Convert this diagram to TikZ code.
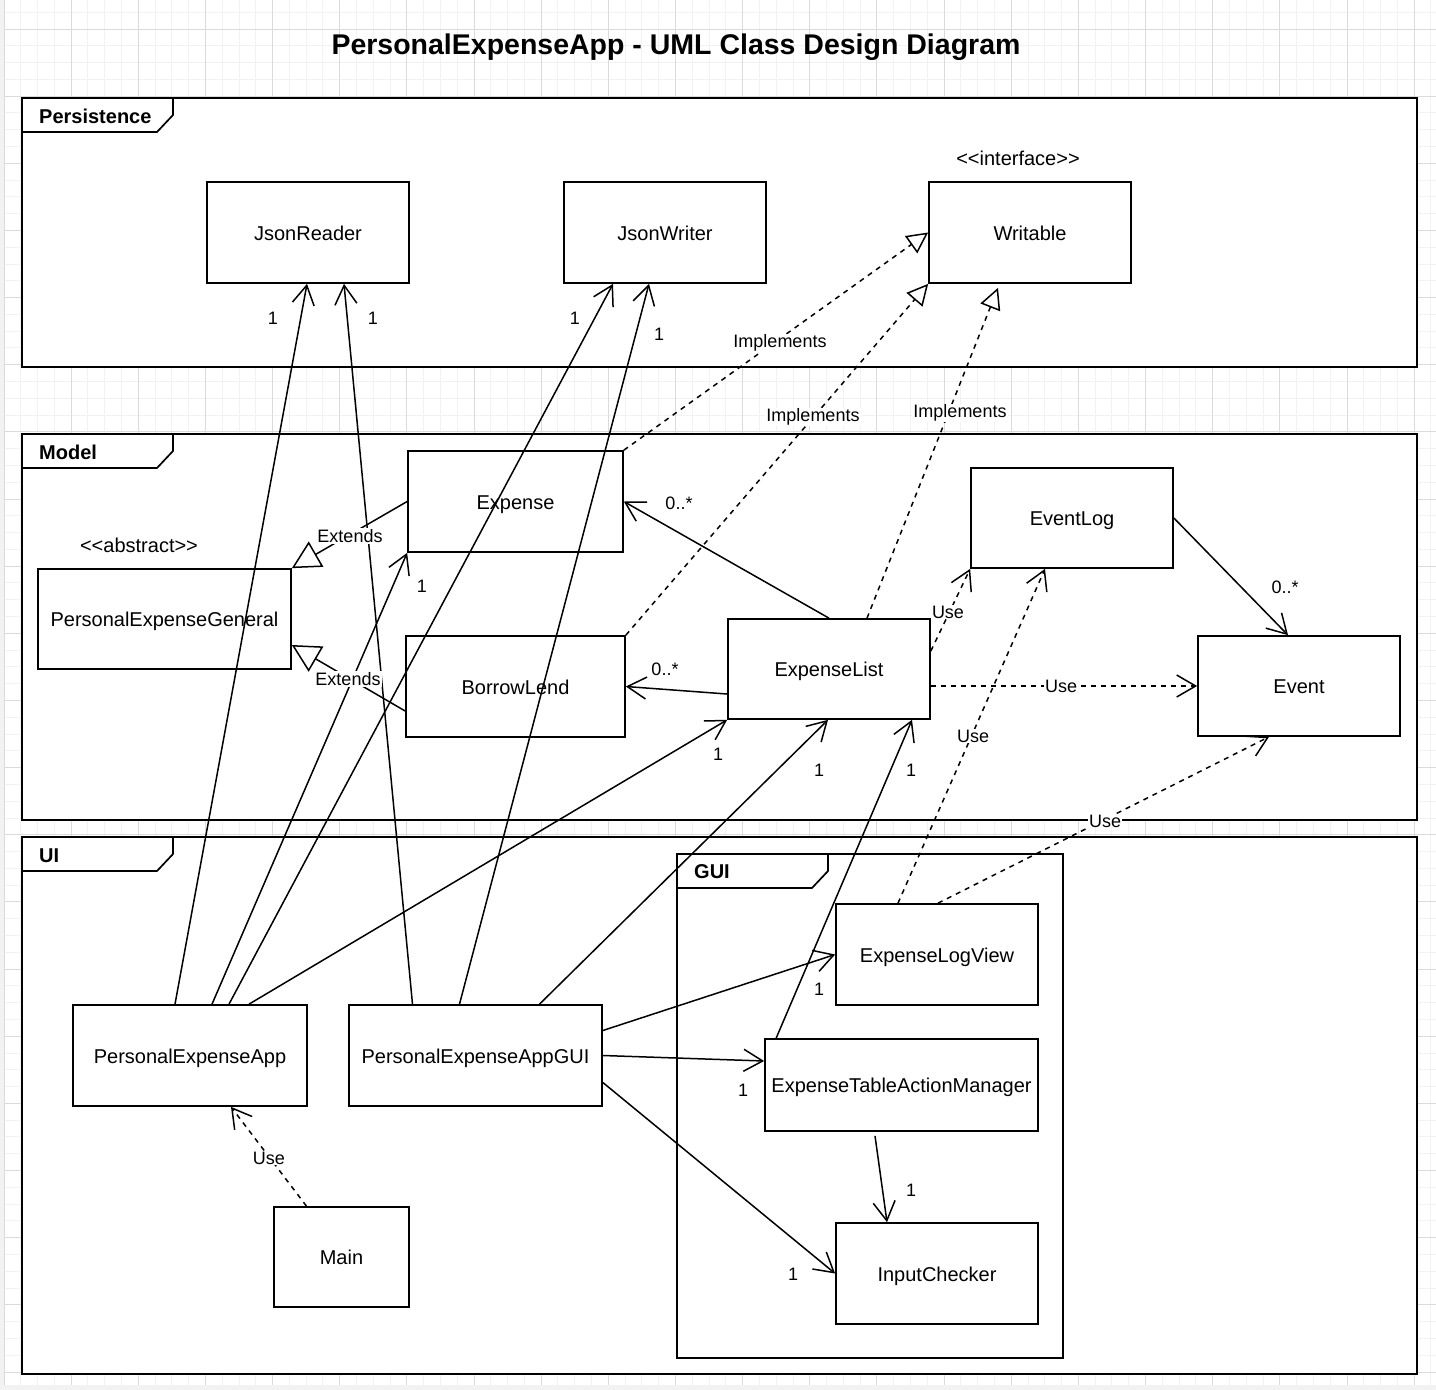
\documentclass[tikz,border=0pt]{standalone}
\usepackage{fontspec}
\setmainfont{Liberation Sans}
\usetikzlibrary{arrows.meta,calc,positioning}

\begin{document}
\begin{tikzpicture}[x=1pt,y=-1pt,
		cls/.style={draw,line width=1.7pt,fill=white,inner sep=0pt,text height=17pt,text depth=2pt,minimum width=202pt,minimum height=101pt,font=\fontsize{20}{24}\selectfont},
		frm/.style={draw,line width=1.7pt},
		frmlbl/.style={anchor=west,inner sep=0pt,font=\bfseries\fontsize{20}{24}\selectfont},
		lbl/.style={inner sep=1pt,font=\fontsize{18}{21}\selectfont},
		onlbl/.style={lbl,fill=white},
		assoc/.style={line width=1.5pt,-{Straight Barb[length=19pt,width=22pt]}},
		use/.style={assoc,dash pattern=on 5pt off 5pt},
		impl/.style={line width=1.5pt,dash pattern=on 5pt off 5pt,-{Triangle[open,length=21pt,width=21pt]}},
		gen/.style={line width=1.5pt,-{Triangle[open,length=28pt,width=29pt]}},
		gridminor/.style={black!5,line width=1pt},
		gridmajor/.style={black!14,line width=1pt},
		]
		\useasboundingbox (0,0) rectangle (1436,1390);
		\fill[black!5] (0,0) rectangle (1436,1390);
		\fill[white] (4,0) rectangle (1436,1385);
		% background grid
		\foreach \k in {0,...,85} \draw[gridminor] ({4+16.7875*\k},0) -- ({4+16.7875*\k},1385);
		\foreach \k in {-1,...,80} \draw[gridminor] (4,{29+16.7875*\k}) -- (1436,{29+16.7875*\k});
		\foreach \k in {0,...,21} \draw[gridmajor] ({4+67.15*\k},0) -- ({4+67.15*\k},1385);
		\foreach \k in {0,...,20} \draw[gridmajor] (4,{29+67.15*\k}) -- (1436,{29+67.15*\k});

		\node[font=\bfseries\fontsize{28.5}{34}\selectfont] (title) at (676,47) {PersonalExpenseApp - UML Class Design Diagram};

		% packages
		\draw[frm,fill=white] (22,98) rectangle (1417,367);
		\draw[frm] (22,132) -- (157,132) -- (173,115) -- (173,98);
		\node[frmlbl] (lblPersistence) at (39,116) {Persistence};

		\draw[frm,fill=white] (22,434) rectangle (1417,820);
		\draw[frm] (22,468) -- (157,468) -- (173,451) -- (173,434);
		\node[frmlbl] (lblModel) at (39,452) {Model};

		\draw[frm,fill=white] (22,837) rectangle (1417,1374);
		\draw[frm] (22,871) -- (157,871) -- (173,854) -- (173,837);
		\node[frmlbl] (lblUI) at (39,856) {UI};

		\draw[frm] (677,854) rectangle (1063,1358);
		\draw[frm] (677,888) -- (812,888) -- (828,871) -- (828,854);
		\node[frmlbl] (lblGUI) at (694,872) {GUI};

		% classes
		\node[cls] (JsonReader) at (308,232.5) {JsonReader};
		\node[cls] (JsonWriter) at (665,232.5) {JsonWriter};
		\node[cls] (Writable) at (1030,232.5) {Writable};
		\node[lbl,font=\fontsize{20}{24}\selectfont] (sInterface) at (1018,158) {<\kern0pt<interface>\kern0pt>};

		\node[cls,minimum width=215pt] (Expense) at (515.5,501.5) {Expense};
		\node[cls,minimum width=253pt,minimum height=100pt] (PEGeneral) at (164.5,619) {PersonalExpenseGeneral};
		\node[lbl,font=\fontsize{20}{24}\selectfont] (sAbstract) at (139,545) {<\kern0pt<abstract>\kern0pt>};
		\node[cls,minimum width=219pt] (BorrowLend) at (515.5,686.5) {BorrowLend};
		\node[cls,minimum height=100pt] (ExpenseList) at (829,669) {ExpenseList};
		\node[cls,minimum height=100pt] (EventLog) at (1072,518) {EventLog};
		\node[cls,minimum height=100pt] (Event) at (1299,686) {Event};

		\node[cls,minimum width=234pt] (PEApp) at (190,1055.5) {PersonalExpenseApp};
		\node[cls,minimum width=253pt] (PEAppGUI) at (475.5,1055.5) {PersonalExpenseAppGUI};
		\node[cls,minimum width=135pt,minimum height=100pt] (Main) at (341.5,1257) {Main};
		\node[cls] (ExpenseLogView) at (937,954.5) {ExpenseLogView};
		\node[cls,minimum width=273pt,minimum height=92pt] (ETAManager) at (901.5,1085) {ExpenseTableActionManager};
		\node[cls] (InputChecker) at (937,1273.5) {InputChecker};

		% realization / generalization / dependency
		\draw[impl] (Expense.north east) -- (Writable.west);
		\draw[impl] (BorrowLend.north east) -- (Writable.south west);
		\draw[impl] ($(ExpenseList.north)+(38,0)$) -- ($(Writable.south)+(-32,4)$);
		\draw[gen] (Expense.west) -- (PEGeneral.north east);
		\draw[gen] ($(BorrowLend.west)+(0,24.5)$) -- ($(PEGeneral.east)+(0,26)$);
		\draw[use] ($(ExpenseList.east)+(0,-18)$) -- (EventLog.south west);
		\draw[use] ($(ExpenseList.east)+(0,17)$) -- (Event.west);
		\draw[use] ($(ExpenseLogView.north)+(-39,0)$) -- ($(EventLog.south)+(-27,0)$);
		\draw[use] ($(ExpenseLogView.north)+(1,0)$) -- ($(Event.south)+(-30,0)$);
		\draw[use] ($(Main.north)+(-35,0)$) -- ($(PEApp.south)+(41,0)$);

		% associations
		\draw[assoc] ($(PEApp.north)+(-15,0)$) -- ($(JsonReader.south)+(-1,0)$);
		\draw[assoc] ($(PEAppGUI.north)+(-63,0)$) -- ($(JsonReader.south)+(36,0)$);
		\draw[assoc] ($(PEApp.north)+(39,0)$) -- ($(JsonWriter.south)+(-52,0)$);
		\draw[assoc] ($(PEAppGUI.north)+(-16,0)$) -- ($(JsonWriter.south)+(-16,0)$);
		\draw[assoc] ($(PEApp.north)+(22,0)$) -- (Expense.south west);
		\draw[assoc] ($(PEApp.north)+(59,0)$) -- (ExpenseList.south west);
		\draw[assoc] ($(PEAppGUI.north)+(64,0)$) -- ($(ExpenseList.south)+(-1,0)$);
		\draw[assoc] ($(ETAManager.north west)+(12,0)$) -- ($(ExpenseList.south)+(83,0)$);
		\draw[assoc] (ExpenseList.north) -- (Expense.east);
		\draw[assoc] ($(ExpenseList.west)+(0,25)$) -- (BorrowLend.east);
		\draw[assoc] (EventLog.east) -- ($(Event.north)+(-11,0)$);
		\draw[assoc] ($(PEAppGUI.east)+(0,-25)$) -- (ExpenseLogView.west);
		\draw[assoc] (PEAppGUI.east) -- ($(ETAManager.west)+(0,-24)$);
		\draw[assoc] ($(PEAppGUI.east)+(0,27)$) -- (InputChecker.west);
		\draw[assoc] ($(ETAManager.south)+(-26.5,4)$) -- ($(InputChecker.north)+(-50,0)$);

		% connector labels
		\node[onlbl] (tImpl1) at (780,343) {Implements};
		\node[onlbl] (tImpl2) at (813,417) {Implements};
		\node[onlbl] (tImpl3) at (960,413) {Implements};
		\node[onlbl] (tExt1) at (350,536) {Extends};
		\node[onlbl] (tExt2) at (348,679) {Extends};
		\node[onlbl] (tUse1) at (948,612) {Use};
		\node[onlbl] (tUse2) at (1061,686) {Use};
		\node[onlbl] (tUse3) at (973,736) {Use};
		\node[onlbl] (tUse4) at (1105,821) {Use};
		\node[onlbl] (tUse5) at (269,1158) {Use};

		% multiplicities
		\node[lbl] (mJR1) at (273,318) {1};
		\node[lbl] (mJR2) at (373,318) {1};
		\node[lbl] (mJW1) at (575,318) {1};
		\node[lbl] (mJW2) at (659,334) {1};
		\node[lbl] (mExp) at (422,586) {1};
		\node[lbl] (mExpList) at (679,503) {0..*};
		\node[lbl] (mBorLend) at (665,669) {0..*};
		\node[lbl] (mEvent) at (1285,587) {0..*};
		\node[lbl] (mEL1) at (718,754) {1};
		\node[lbl] (mEL2) at (819,770) {1};
		\node[lbl] (mEL3) at (911,770) {1};
		\node[lbl] (mELV) at (819,989) {1};
		\node[lbl] (mETAM) at (743,1090) {1};
		\node[lbl] (mIC1) at (793,1274) {1};
		\node[lbl] (mIC2) at (911,1190) {1};
	\end{tikzpicture}
\end{document}
